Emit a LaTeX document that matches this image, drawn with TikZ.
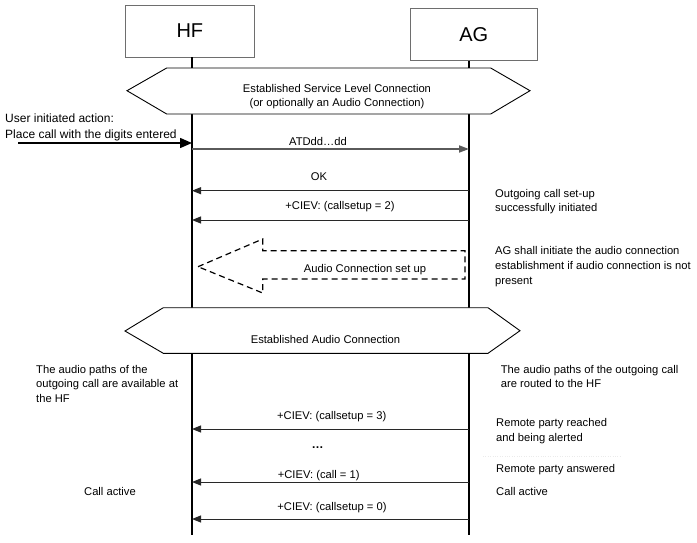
\documentclass[tikz,border=0pt]{standalone}
\usepackage{fontspec}
\setmainfont{Liberation Sans}
\usetikzlibrary{arrows.meta}
\definecolor{boxgray}{RGB}{110,110,110}
\definecolor{msggray}{RGB}{40,40,40}
\definecolor{atdgray}{RGB}{90,90,90}
\begin{document}
\begin{tikzpicture}[x=1pt,y=-1pt,
  box/.style={draw=boxgray, line width=0.8pt, inner sep=0pt, font=\fontsize{20}{24}\selectfont},
  life/.style={line width=1.1pt, black},
  hexa/.style={draw=black, line width=0.9pt, fill=white, line join=miter},
  msg/.style={line width=1pt, draw=msggray, -{Triangle[length=9pt,width=7pt]}},
  atd/.style={line width=1.8pt, draw=atdgray, -{Triangle[length=10pt,width=7pt]}},
  user/.style={line width=1.5pt, draw=black, -{Triangle[length=12pt,width=10pt]}},
  lbl/.style={font=\fontsize{11.2}{14.5}\selectfont, inner sep=0pt, anchor=base},
  note/.style={font=\fontsize{11.2}{14.5}\selectfont, inner sep=0pt, anchor=base west, align=left},
  dasharrow/.style={draw=black, line width=1.2pt, dash pattern=on 6pt off 4pt, line join=miter}
]
\useasboundingbox (0,0) rectangle (697,542);
\fill[white] (0,0) rectangle (697,542);

% participants
\node[box, minimum width=128.3pt, minimum height=52pt] (HF) at (189.85,31) {HF};
\node[box, minimum width=126.3pt, minimum height=52.4pt] (AG) at (473.85,34.5) {AG};

% lifelines
\coordinate (hfTop) at (192,57);
\coordinate (hfBot) at (192,535);
\coordinate (agTop) at (469,60.7);
\coordinate (agBot) at (469,535);
\draw[life] (hfTop) -- (hfBot);
\draw[life] (agTop) -- (agBot);

% established service level connection
\draw[hexa] (127,90.7) -- (166.7,68) -- (490.7,68) -- (530,90.7) -- (490.7,114) -- (166.7,114) -- cycle;
\node[font=\fontsize{11.2}{14}\selectfont, align=center, inner sep=0pt] (slc) at (337,96.5)
  {Established Service Level Connection\\(or optionally an Audio Connection)};

% user action
\node[note, font=\fontsize{12}{16}\selectfont] (usr) at (5,138) {User initiated action:\\Place call with the digits entered};
\coordinate (u0) at (18,143);
\coordinate (u1) at (192,143);
\draw[user] (u0) -- (u1);

% ATD
\coordinate (h0) at (192,149);
\coordinate (a0) at (469,149);
\draw[atd] (h0) -- (a0);
\node[lbl] (latd) at (318,145.7) {ATDdd…dd};

% OK
\coordinate (a1) at (469,190.7);
\coordinate (h1) at (192,190.7);
\draw[msg] (a1) -- (h1);
\node[lbl] (lok) at (319,180) {OK};

% CIEV callsetup 2
\coordinate (a2) at (469,220);
\coordinate (h2) at (192,220);
\draw[msg] (a2) -- (h2);
\node[lbl] (lc2) at (340,209) {+CIEV: (callsetup = 2)};
\node[note] (n1) at (495,211.7) {Outgoing call set-up\\successfully initiated};

% audio connection set up (dashed block arrow)
\draw[dasharrow] (198,266.7) -- (262.7,239) -- (262.7,250.7) -- (465,250.7) -- (465,279) -- (262.7,279) -- (262.7,293) -- cycle;
\node[lbl] (lacs) at (365,272) {Audio Connection set up};
\node[note, font=\fontsize{11.2}{15}\selectfont] (n2) at (495,284.7) {AG shall initiate the audio connection\\establishment if audio connection is not\\present};

% established audio connection
\draw[hexa] (125,331) -- (163.3,307.7) -- (488,307.7) -- (520,330.7) -- (488,353.3) -- (163.3,353.3) -- cycle;
\node[lbl] (eac) at (325.5,343) {Established Audio Connection};

\node[note] (n3) at (36,402) {The audio paths of the\\outgoing call are available at\\the HF};
\node[note, font=\fontsize{11.2}{14}\selectfont] (n4) at (500.7,387) {The audio paths of the outgoing call\\are routed to the HF};

% CIEV callsetup 3
\coordinate (a3) at (469,429);
\coordinate (h3) at (192,429);
\draw[msg] (a3) -- (h3);
\node[lbl] (lc3) at (331.7,419) {+CIEV: (callsetup = 3)};
\node[note] (n5) at (496,441.2) {Remote party reached\\and being alerted};
\node[lbl, font=\fontsize{12}{14}\bfseries] (dots) at (317.7,448) {…};
\draw[dotted, black!8] (483,456) -- (622,456);

% CIEV call 1
\coordinate (a4) at (469,482);
\coordinate (h4) at (192,482);
\draw[msg] (a4) -- (h4);
\node[lbl] (lc4) at (318.7,478) {+CIEV: (call = 1)};
\node[note] (n6) at (496,472) {Remote party answered};
\node[note] (n7) at (496,495) {Call active};
\node[lbl] (n8) at (110,495.7) {Call active};

% CIEV callsetup 0
\coordinate (a5) at (469,519);
\coordinate (h5) at (192,519);
\draw[msg] (a5) -- (h5);
\node[lbl] (lc5) at (332,510.7) {+CIEV: (callsetup = 0)};
\end{tikzpicture}
\end{document}
